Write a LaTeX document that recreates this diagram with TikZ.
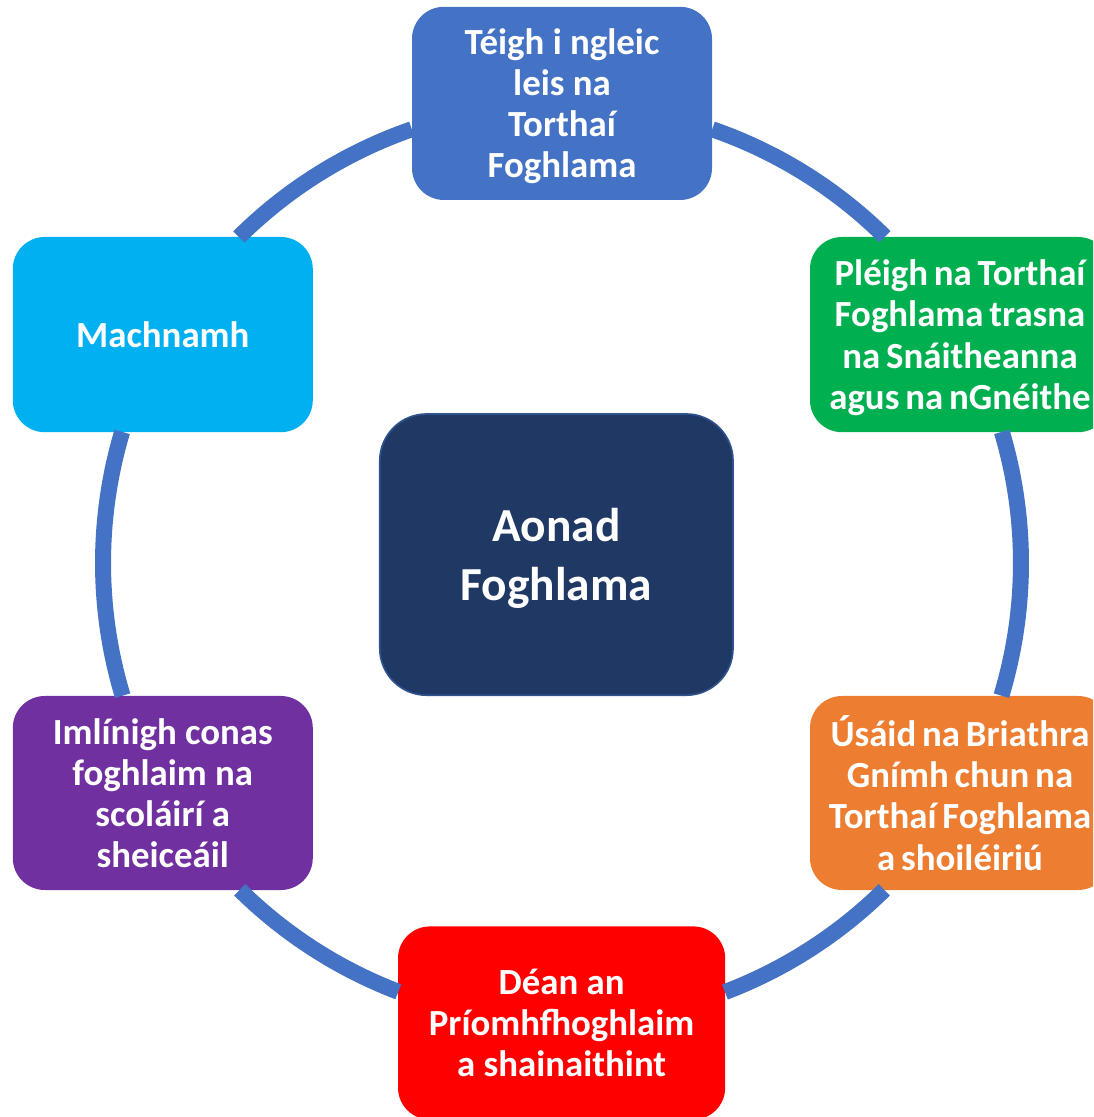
\documentclass[tikz,border=0pt]{standalone}
\usepackage{fontspec}
\setmainfont{Carlito}
\newfontfamily\tightfont{Carlito}[WordSpace=0.7]
\definecolor{ringblue}{HTML}{4472C4}
\definecolor{stepgreen}{HTML}{00B050}
\definecolor{stepcyan}{HTML}{00B0F0}
\definecolor{steppurple}{HTML}{7030A0}
\definecolor{steporange}{HTML}{ED7D31}
\definecolor{stepred}{HTML}{FF0000}
\definecolor{hubnavy}{HTML}{203864}
\definecolor{hubedge}{HTML}{2F528F}

\begin{document}
\begin{tikzpicture}[
  stage/.style={rectangle, rounded corners=0.8cm, minimum width=7.5cm, minimum height=4.83cm,
    text=white, align=center, inner sep=0pt, text depth=0pt,
    font=\fontsize{26.2}{29.2}\selectfont\bfseries},
  tight/.style={font=\tightfont\fontsize{26.2}{29.2}\selectfont\bfseries},
  hubbox/.style={rectangle, rounded corners=1.17cm, minimum width=8.83cm, minimum height=7.03cm,
    fill=hubnavy, draw=hubedge, line width=1.2pt, text=white, align=center, text depth=0pt,
    font=\fontsize{33.7}{42}\selectfont\bfseries},
  ring/.style={ringblue, line width=0.4cm}
]
\clip (-14.05,14.075) rectangle (13.275,-13.85);
\coordinate (ctr) at (0,0);

% the six stages round the ring
\node[stage, fill=ringblue] (outcomes) at (0,11.49) {Téigh i ngleic\\leis na\\Torthaí\\Foghlama};
\node[stage, tight, fill=stepgreen, minimum height=4.88cm] (discuss) at (9.95,5.71) {Pléigh na Torthaí\\Foghlama trasna\\na Snáitheanna\\agus na nGnéithe};
\node[stage, tight, fill=steporange, minimum height=4.85cm] (verbs) at (9.95,-5.75) {Úsáid na Briathra\\Gnímh chun na\\Torthaí Foghlama\\a shoiléiriú};
\node[stage, fill=stepred, minimum width=8.18cm] (keylearn) at (-0.01,-11.5) {Déan an\\Príomhfhoghlaim\\a shainaithint};
\node[stage, fill=steppurple, minimum height=4.85cm] (outline) at (-9.98,-5.75) {Imlínigh conas\\foghlaim na\\scoláirí a\\sheiceáil};
\node[stage, fill=stepcyan, minimum height=4.88cm] (reflect) at (-9.98,5.71) {Machnamh};

% centre
\node[hubbox] (unit) at (-0.14,0.21) {Aonad\\Foghlama};

% arcs between the stages
\foreach \a/\b in {70.9/45.3, 16.6/-16.8, -45.4/-69.2, -110.9/-134.6, -163.2/-196.6, 134.75/109.1}
   \draw[ring] (ctr) ++(\a:11.475) arc[start angle=\a, end angle=\b, radius=11.475];

\end{tikzpicture}
\end{document}
